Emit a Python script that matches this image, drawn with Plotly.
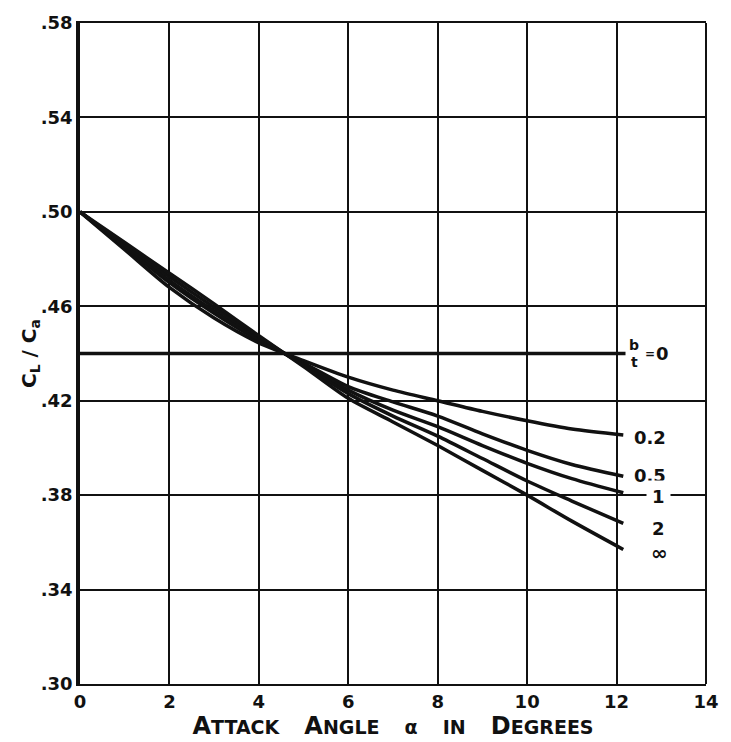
import plotly.graph_objects as go

# ---- data ----
x_pts = [0, 1, 2, 3, 4, 5, 6, 7, 8, 9, 10, 11, 12.15]
curve_02 = [0.500, 0.484, 0.468, 0.455, 0.4445, 0.437, 0.430, 0.4245, 0.420, 0.4155, 0.4115, 0.408, 0.4055]
curve_05 = [0.500, 0.485, 0.470, 0.457, 0.4455, 0.436, 0.426, 0.4195, 0.4135, 0.406, 0.399, 0.393, 0.388]
curve_1 = [0.500, 0.4855, 0.471, 0.458, 0.446, 0.4355, 0.4245, 0.416, 0.409, 0.401, 0.3935, 0.387, 0.381]
curve_2 = [0.500, 0.486, 0.4725, 0.4595, 0.447, 0.435, 0.423, 0.4135, 0.405, 0.3955, 0.386, 0.3775, 0.368]
curve_inf = [0.500, 0.487, 0.474, 0.461, 0.4475, 0.4345, 0.421, 0.411, 0.401, 0.3905, 0.380, 0.369, 0.357]
flat_x = [0, 12.2]
flat_y = [0.44, 0.44]

x_ticks = [0, 2, 4, 6, 8, 10, 12, 14]
x_ticklabels = ["0", "2", "4", "6", "8", "10", "12", "14"]
y_ticks = [0.30, 0.34, 0.38, 0.42, 0.46, 0.50, 0.54, 0.58]
y_ticklabels = [".30", ".34", ".38", ".42", ".46", ".50", ".54", ".58"]

series = [("0.2", curve_02), ("0.5", curve_05), ("1", curve_1), ("2", curve_2), ("∞", curve_inf)]
label_pos = {"0.2": (12.75, 0.4043), "0.5": (12.75, 0.3884), "1": (12.94, 0.3796),
             "2": (12.94, 0.3657), "∞": (12.96, 0.3557)}

FONT = "DejaVu Sans"
INK = "#111111"

fig = go.Figure()
fig.add_trace(go.Scatter(x=flat_x, y=flat_y, mode="lines",
                         line=dict(color=INK, width=3.5), hoverinfo="skip"))
for name, ys in series:
    fig.add_trace(go.Scatter(x=x_pts, y=ys, mode="lines",
                             line=dict(color=INK, width=3.5, shape="spline", smoothing=0.8),
                             hoverinfo="skip"))

for name, (lx, ly) in label_pos.items():
    fig.add_annotation(x=lx, y=ly, text="<b>%s</b>" % name, showarrow=False,
                       font=dict(family=FONT, size=18 if name != "∞" else 20, color=INK),
                       bgcolor="white" if name == "1" else None,
                       borderpad=0 if name != "1" else 5)

# b/t = 0 label
fig.add_annotation(x=12.39, y=0.4437, text="<b>b</b>", showarrow=False,
                   font=dict(family=FONT, size=14, color=INK))
fig.add_annotation(x=12.39, y=0.4366, text="<b>t</b>", showarrow=False,
                   font=dict(family=FONT, size=14, color=INK))
fig.add_annotation(x=12.58, y=0.4398, text="<b>=</b>", showarrow=False, xanchor="left",
                   font=dict(family=FONT, size=12, color=INK))
fig.add_annotation(x=12.84, y=0.440, text="<b>0</b>", showarrow=False, xanchor="left",
                   font=dict(family=FONT, size=18, color=INK))

small = "font-size:19px"
sp = "&nbsp;&nbsp;&nbsp;"
xtitle = ("<b>A<span style='%s'>TTACK</span>%sA<span style='%s'>NGLE</span>%s"
          "<span style='%s'>α</span>%s<span style='%s'>IN</span>%s"
          "D<span style='%s'>EGREES</span></b>") % (small, sp, small, sp, small, sp, small, sp, small)

fig.update_layout(
    width=731, height=742,
    margin=dict(l=80, r=16, t=16, b=58),
    paper_bgcolor="white", plot_bgcolor="white",
    showlegend=False,
    font=dict(family=FONT, color=INK),
    xaxis=dict(range=[0, 14], tickvals=x_ticks, ticktext=x_ticklabels,
               showgrid=True, gridcolor=INK, gridwidth=2,
               showline=True, linecolor=INK, linewidth=2, mirror=True,
               ticks="", zeroline=False,
               tickfont=dict(family=FONT, size=18, color=INK, weight="bold"),
               title=dict(text=xtitle, font=dict(family=FONT, size=24, color=INK), standoff=0)),
    yaxis=dict(range=[0.30, 0.58], tickvals=y_ticks, ticktext=y_ticklabels,
               showgrid=True, gridcolor=INK, gridwidth=2,
               showline=True, linecolor=INK, linewidth=3.5, mirror=False,
               ticks="", zeroline=False,
               tickfont=dict(family=FONT, size=18, color=INK, weight="bold"),
               title=dict(text="<b>C<sub>L</sub> / C<sub>a</sub></b>",
                          font=dict(family=FONT, size=20, color=INK), standoff=0)),
)
fig.add_shape(type="line", xref="paper", yref="paper", x0=1, x1=1, y0=0, y1=1,
              line=dict(color=INK, width=2))

fig.write_html("out.html", config={"displayModeBar": False},
               post_script="document.body.style.margin='0';")
